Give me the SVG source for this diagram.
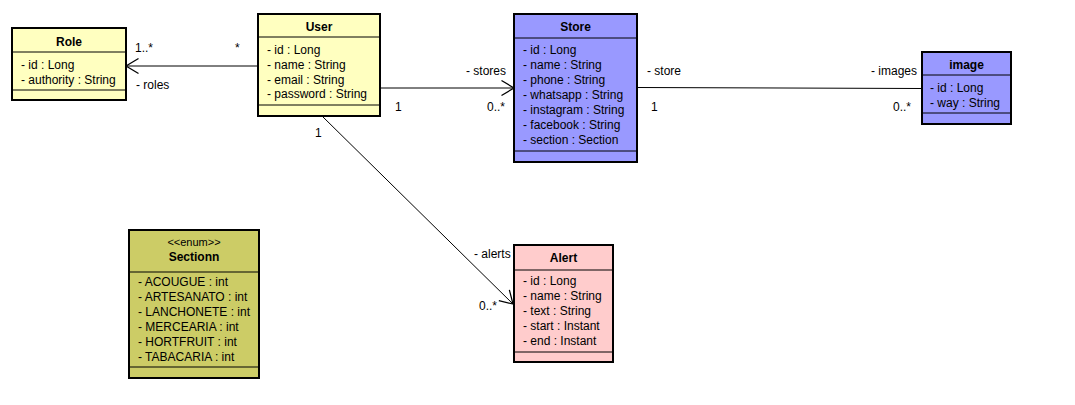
<svg xmlns="http://www.w3.org/2000/svg" width="1075" height="405" viewBox="0 0 1075 405">
<style>
text { font-family: "Liberation Sans", Arial, sans-serif; font-size: 12px; fill: #000; }
.t { font-weight: bold; text-anchor: middle; }
.st { font-size: 11px; text-anchor: middle; }
.box { stroke: #000; stroke-width: 2; }
.sep { stroke: #000; stroke-width: 1; }
.conn line { stroke: #000; stroke-width: 1; fill: none; }
.yel { fill: #FFFFC0; }
.blu { fill: #9999FF; }
.pnk { fill: #FFCCCC; }
.olv { fill: #CCCC66; }
</style>
<defs>
<marker id="open" markerUnits="userSpaceOnUse" markerWidth="20" markerHeight="20" refX="0" refY="0" orient="auto" viewBox="-12 -8 14 16" overflow="visible">
<path d="M-10,-6 L0,0 L-10,6" fill="none" stroke="#000" stroke-width="1"/>
</marker>
</defs>
<rect width="1075" height="405" fill="#fff"/>

<g class="conn" id="connectors">
<line x1="258" y1="66" x2="126" y2="66" marker-end="url(#open)"/>
<line x1="380" y1="88" x2="514" y2="88" marker-end="url(#open)"/>
<line x1="637" y1="87.5" x2="922" y2="88.5"/>
<line x1="322" y1="116" x2="513" y2="304" marker-end="url(#open)"/>
<text x="135" y="52">1..*</text>
<text x="235" y="52">*</text>
<text x="136" y="89">- roles</text>
<text x="466" y="75">- stores</text>
<text x="395" y="111">1</text>
<text x="487" y="111">0..*</text>
<text x="647" y="75">- store</text>
<text x="651" y="111">1</text>
<text x="871" y="75">- images</text>
<text x="893" y="111">0..*</text>
<text x="315" y="137">1</text>
<text x="474" y="258">- alerts</text>
<text x="479" y="310">0..*</text>
</g>

<g id="Role">
<rect class="box yel" x="12" y="28" width="114" height="72"/>
<line class="sep" x1="12" y1="52" x2="126" y2="52"/>
<line class="sep" x1="12" y1="90" x2="126" y2="90"/>
<text class="t" x="69" y="46">Role</text>
<text x="21" y="68.5">- id : Long</text>
<text x="21" y="83.5">- authority : String</text>
</g>

<g id="User">
<rect class="box yel" x="258" y="14" width="122" height="102"/>
<line class="sep" x1="258" y1="37" x2="380" y2="37"/>
<line class="sep" x1="258" y1="105" x2="380" y2="105"/>
<text class="t" x="319" y="30.5">User</text>
<text x="267" y="53.5">- id : Long</text>
<text x="267" y="68.5">- name : String</text>
<text x="267" y="83.5">- email : String</text>
<text x="267" y="98">- password : String</text>
</g>

<g id="Store">
<rect class="box blu" x="514" y="14" width="123" height="148"/>
<line class="sep" x1="514" y1="38" x2="637" y2="38"/>
<line class="sep" x1="514" y1="151" x2="637" y2="151"/>
<text class="t" x="575.5" y="30.5">Store</text>
<text x="523" y="54">- id : Long</text>
<text x="523" y="69">- name : String</text>
<text x="523" y="84">- phone : String</text>
<text x="523" y="99">- whatsapp : String</text>
<text x="523" y="114">- instagram : String</text>
<text x="523" y="129">- facebook : String</text>
<text x="523" y="144">- section : Section</text>
</g>

<g id="image">
<rect class="box blu" x="922" y="52" width="89" height="72"/>
<line class="sep" x1="922" y1="75" x2="1011" y2="75"/>
<line class="sep" x1="922" y1="113" x2="1011" y2="113"/>
<text class="t" x="966.5" y="68.5">image</text>
<text x="930" y="91.5">- id : Long</text>
<text x="930" y="106.5">- way : String</text>
</g>

<g id="Sectionn">
<rect class="box olv" x="129" y="230" width="130" height="148"/>
<line class="sep" x1="129" y1="272" x2="259" y2="272"/>
<line class="sep" x1="129" y1="367" x2="259" y2="367"/>
<text class="st" x="194" y="246">&lt;&lt;enum&gt;&gt;</text>
<text class="t" x="194" y="261">Sectionn</text>
<text x="138" y="285.5">- ACOUGUE : int</text>
<text x="138" y="300.5">- ARTESANATO : int</text>
<text x="138" y="315.5">- LANCHONETE : int</text>
<text x="138" y="330.5">- MERCEARIA : int</text>
<text x="138" y="345.5">- HORTFRUIT : int</text>
<text x="138" y="360.5">- TABACARIA : int</text>
</g>

<g id="Alert">
<rect class="box pnk" x="514" y="245" width="99" height="117"/>
<line class="sep" x1="514" y1="270" x2="613" y2="270"/>
<line class="sep" x1="514" y1="352" x2="613" y2="352"/>
<text class="t" x="563.5" y="261.5">Alert</text>
<text x="523" y="284.5">- id : Long</text>
<text x="523" y="300">- name : String</text>
<text x="523" y="315">- text : String</text>
<text x="523" y="330">- start : Instant</text>
<text x="523" y="345">- end : Instant</text>
</g>
</svg>
